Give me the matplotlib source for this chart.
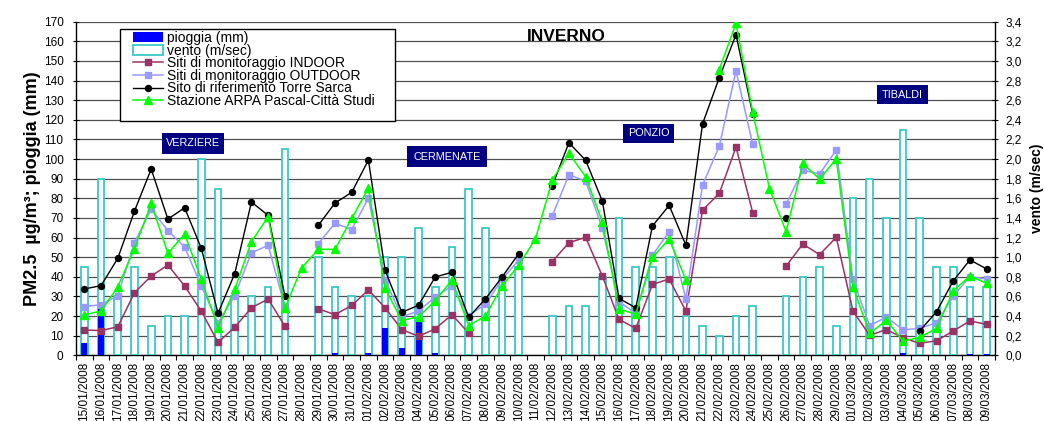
import numpy as np
import pandas as pd
import matplotlib
matplotlib.use("Agg")
import matplotlib.pyplot as plt
from matplotlib.patches import Rectangle
from matplotlib.ticker import FuncFormatter

plt.rcParams['font.family'] = ['Liberation Sans', 'DejaVu Sans']

nan = np.nan

# daily categories, 15/01/2008 - 09/03/2008
dates = pd.date_range('2008-01-15', '2008-03-09', freq='D').strftime('%d/%m/%Y').tolist()

# rain (mm), left axis
pioggia = [6.3, 24.3, 0, 0, 0, 0, 0, 0, 0, 0, 0, 0, 0, 0, 0, 1.3, 0, 1.3, 14.1, 3.9,
           18.3, 1.3, 0, 0, 0, 0, 0, 0, 0, 0, 0, 0, 0, 0, 0, 0, 0, 0, 0, 0,
           0, 0, 0, 0, 0, 0, 0, 0, 0, 1.3, 0, 0, 0, 0.7, 0.7]

# wind speed (m/sec), right axis
vento = [0.9, 1.8, 0.6, 0.9, 0.3, 0.4, 0.4, 2.0, 1.7, 0.6, 0.6, 0.7, 2.1, nan, 1.0, 0.7, 0.6, 0.6, 1.0, 1.0,
         1.3, 0.7, 1.1, 1.7, 1.3, 0.8, 0.9, nan, 0.4, 0.5, 0.5, 0.8, 1.4, 0.9, 0.9, 1.0, 0.4, 0.3, 0.2, 0.4,
         0.5, nan, 0.6, 0.8, 0.9, 0.3, 1.6, 1.8, 1.4, 2.3, 1.4, 0.9, 0.9, 0.7, 0.7]

# PM2.5 (ug/m3)
indoor = [12.9, 12.6, 14.5, 31.9, 40.4, 46.0, 35.3, 22.5, 6.6, 14.3, 24.2, 28.7, 14.8, nan, 23.7, 20.7, 25.4, 33.3, 24.2, 13.1,
          9.7, 13.5, 20.7, 11.3, nan, nan, nan, nan, 47.7, 57.4, 60.1, 40.4, 18.3, 13.7, 36.1, 38.9, 22.5, 74.0, 82.5, 106.1,
          72.6, nan, 45.5, 56.7, 51.3, 60.1, 22.5, 10.2, 13.1, 8.9, 6.1, 7.4, 12.4, 17.5, 15.8]

outdoor = [24.8, 25.8, 30.4, 57.4, 74.5, 63.5, 55.2, 35.3, 16.6, 30.4, 52.3, 56.0, 24.8, nan, 56.9, 67.3, 64.1, 80.0, 38.4, 19.7,
           22.5, 29.8, 35.3, 20.2, 26.0, 38.7, 48.6, nan, 71.0, 92.0, 88.8, 64.7, 27.3, 21.4, 51.0, 63.0, 28.7, 86.8, 106.6, 144.9,
           107.5, nan, 77.1, 94.4, 92.4, 104.6, 38.7, 15.1, 19.5, 13.0, 13.7, 16.6, 30.2, 40.1, 38.9]

torre_sarca = [33.8, 35.5, 49.4, 73.5, 94.9, 69.4, 75.2, 54.5, 21.4, 41.6, 78.1, 71.3, 30.4, nan, 66.2, 77.6, 83.0, 99.5, 43.3, 21.9,
               25.5, 39.9, 42.3, 19.4, 28.7, 39.9, 51.8, nan, 86.3, 108.3, 99.4, 78.6, 29.0, 24.2, 65.9, 76.4, 56.1, 118.0, 141.5, 163.4,
               123.0, nan, 70.1, nan, nan, nan, nan, nan, nan, nan, 12.5, 22.2, 37.9, 48.6, 44.0]

arpa_pascal = [20.7, 22.5, 34.9, 54.3, 77.4, 51.9, 61.8, 38.7, 14.1, 33.6, 57.9, 70.6, 23.9, 44.5, 54.0, 54.0, 69.8, 85.1, 34.1, 17.7,
               19.7, 27.8, 38.4, 15.1, 20.0, 35.3, 46.0, 59.4, 89.3, 102.9, 91.0, 68.1, 23.5, 21.0, 49.9, 59.3, 38.4, nan, 145.6, 169.2,
               123.9, 85.0, 63.0, 97.8, 89.8, 100.0, 34.9, 11.2, 17.8, 7.2, 9.2, 13.7, 32.8, 40.4, 36.7]

sites = [("VERZIERE", (162, 133, 224, 154)),
         ("CERMENATE", (407, 146, 487, 167)),
         ("PONZIO", (623, 124, 674, 143)),
         ("TIBALDI", (877, 85, 928, 104))]

W, H = 1044, 421
fig = plt.figure(figsize=(W / 100, H / 100), dpi=100)


def fx(px):
    return px / W


def fy(py):
    return 1 - py / H


X0, X1, Y0, Y1 = 76, 995, 355.3, 21.7
rect = [fx(X0), fy(Y0), fx(X1) - fx(X0), fy(Y1) - fy(Y0)]

ax = fig.add_axes(rect)            # grid, left axis, categories
ax2 = ax.twinx()                   # wind bars, right axis
ax3 = fig.add_axes(rect, sharex=ax, sharey=ax)   # rain and PM2.5 on top
ax.set_zorder(0)
ax2.set_zorder(1)
ax3.set_zorder(2)
ax2.patch.set_visible(False)
ax3.patch.set_visible(False)
ax3.axis('off')

x = np.arange(len(dates))

# wind bars
vento_bars = ax2.bar(x, vento, width=0.4, facecolor='white', edgecolor='#3CC8C8',
                     linewidth=1.3, label='vento (m/sec)')
# rain bars
pioggia_bars = ax3.bar(x, pioggia, width=0.36, color='#0000FF', linewidth=0,
                       label='pioggia (mm)')

l_in, = ax3.plot(x, indoor, color='#993366', marker='s', ms=4.3, lw=1.1,
                 label='Siti di monitoraggio INDOOR')
l_out, = ax3.plot(x, outdoor, color='#9999FF', marker='s', ms=4.3, lw=1.1,
                  label='Siti di monitoraggio OUTDOOR')
l_ts, = ax3.plot(x, torre_sarca, color='black', marker='o', ms=4.3, lw=1.0,
                 label='Sito di riferimento Torre Sarca')
l_arpa, = ax3.plot(x, arpa_pascal, color='#00FF00', marker='^', ms=5.5, lw=1.1,
                   label='Stazione ARPA Pascal-Città Studi')

# axes limits and ticks
ax.set_xlim(-0.5, len(dates) - 0.5)
ax.set_ylim(0, 170)
ax2.set_ylim(0, 3.4)

ax.set_yticks(np.arange(0, 171, 10))
ax.yaxis.grid(True, color='#505050', lw=0.9)
ax.set_axisbelow(True)
ax.tick_params(axis='y', direction='inout', length=5, width=0.8, pad=6.5, labelsize=8.5)

ax2.set_yticks(np.round(np.arange(0, 18) * 0.2, 1))
ax2.yaxis.set_major_formatter(FuncFormatter(lambda v, p: f"{v:.1f}".replace('.', ',')))
ax2.tick_params(axis='y', direction='inout', length=5, width=0.8, pad=5, labelsize=8.5)

ax.set_xticks(np.arange(-0.5, len(dates), 1.0))
ax.set_xticks(x, minor=True)
ax.set_xticklabels(dates, minor=True, rotation=90, fontsize=8.5)
ax.tick_params(axis='x', which='major', direction='out', length=3.5, width=0.8, labelbottom=False)
ax.tick_params(axis='x', which='minor', length=0, pad=5)

for s in ['top', 'right']:
    ax.spines[s].set_visible(False)
for s in ['top', 'left', 'bottom']:
    ax2.spines[s].set_visible(False)
for a, s in [(ax, 'left'), (ax, 'bottom'), (ax2, 'right')]:
    a.spines[s].set_color('black')
    a.spines[s].set_linewidth(1.0)

ax.set_ylabel('PM2.5  µg/m³; pioggia (mm)', fontsize=13, fontweight='bold')
ax.yaxis.set_label_coords((41 - X0) / (X1 - X0), 0.5)
ax2.set_ylabel('vento (m/sec)', fontsize=10, fontweight='bold')
ax2.yaxis.set_label_coords((1030 - X0) / (X1 - X0), 0.5)

fig.text(fx(566), fy(40.7), 'INVERNO', ha='center', va='baseline',
         fontsize=12.5, fontweight='bold')

# legend with a fixed frame
frame = Rectangle((fx(120), fy(121)), fx(395) - fx(120), fy(29) - fy(121),
                  transform=fig.transFigure, facecolor='white', edgecolor='black',
                  lw=1.0, zorder=4)
ax3.add_artist(frame)
handles = [pioggia_bars, vento_bars, l_in, l_out, l_ts, l_arpa]
leg = ax3.legend(handles, [h.get_label() for h in handles], loc='upper left',
                 bbox_to_anchor=(fx(133), fy(31)), bbox_transform=fig.transFigure,
                 frameon=False, borderpad=0, borderaxespad=0, fontsize=10,
                 handlelength=2.15, handletextpad=0.3, labelspacing=-0.1,
                 numpoints=1)
leg.set_zorder(5)

# site name boxes
for name, (bx0, by0, bx1, by1) in sites:
    box = Rectangle((fx(bx0), fy(by1)), fx(bx1) - fx(bx0), fy(by0) - fy(by1),
                    transform=fig.transFigure, facecolor='#000080', edgecolor='none',
                    zorder=4)
    ax3.add_artist(box)
    ax3.text(fx((bx0 + bx1) / 2), fy((by0 + by1) / 2), name, transform=fig.transFigure,
             ha='center', va='center', color='white', fontsize=7.8, zorder=5)

fig.savefig('out.png', dpi=100)
